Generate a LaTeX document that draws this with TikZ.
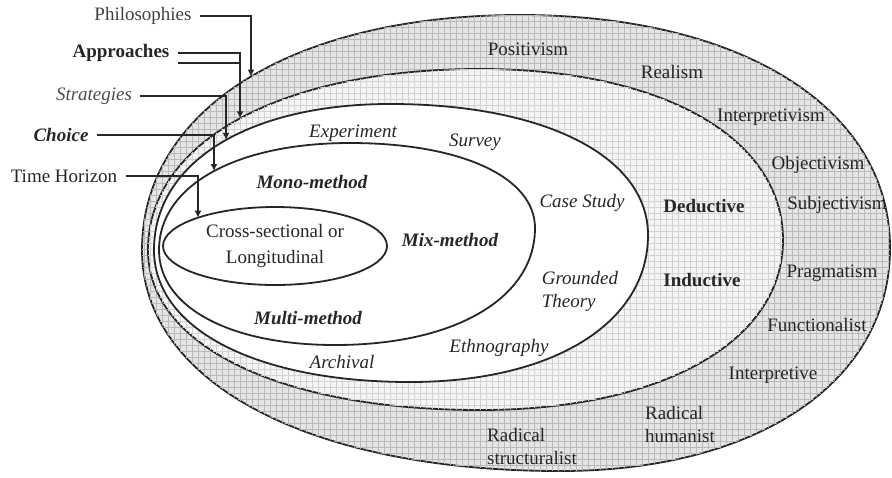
\documentclass[tikz,border=0pt]{standalone}
\usepackage{fontspec}
\setmainfont{Liberation Serif}
\usetikzlibrary{patterns,arrows.meta,shapes.geometric,intersections}

% one ring of the onion: left, top, right and bottom points
\newcommand{\ring}[8]{(#1,#2) .. controls (#1,{#2-0.6*(#2-#4)}) and ({#3-0.6*(#3-#1)},#4) .. (#3,#4) .. controls ({#3+0.6*(#5-#3)},#4) and (#5,{#6-0.6*(#6-#4)}) .. (#5,#6) .. controls (#5,{#6+0.6*(#8-#6)}) and ({#7+0.6*(#5-#7)},#8) .. (#7,#8) .. controls ({#7-0.6*(#7-#1)},#8) and (#1,{#2+0.6*(#8-#2)}) .. cycle}

\begin{document}
\begin{tikzpicture}[x=0.5pt,y=-0.5pt,
  every node/.style={font=\fontsize{9.5}{11.5}\selectfont, text=black!85, inner sep=2pt},
  band1/.style={fill=gray!20, postaction={pattern=grid, pattern color=gray!55}},
  band2/.style={fill=gray!8, postaction={pattern=grid, pattern color=gray!35}},
  layer/.style={draw=black!85, line width=0.9pt},
  pointer/.style={draw=black!85, line width=0.7pt, -{Latex[length=3.5pt,width=3.5pt]}},
  tag/.style={inner sep=4pt}]
\useasboundingbox (0,0) rectangle (892,477);

% rings
\path[layer, band1, name path=philo ring] \ring{142}{250}{520}{15}{890}{248}{560}{471};
\path[layer, band2, name path=appr ring] \ring{148}{250}{480}{69}{783}{240}{480}{410};
\path[layer, fill=white, name path=strat ring] \ring{154}{250}{390}{104}{648}{235}{410}{382};
\path[layer, fill=white, name path=choice ring] \ring{159}{250}{350}{143}{535}{228}{335}{345};
\node[ellipse, layer, fill=white, minimum width=112pt, minimum height=39pt, align=center, name path=time ring] (horizon) at (275,246) {Cross-sectional or\\[1.5pt]Longitudinal};

% labels on the left
\node[tag, text=black!75] (philo) at (143,16) {Philosophies};
\node[tag, font=\fontsize{9.5}{11.5}\selectfont\bfseries] (appr) at (121,53) {Approaches};
\node[tag, text=black!70, font=\fontsize{9.5}{11.5}\selectfont\itshape] (strat) at (94,96) {Strategies};
\node[tag, font=\fontsize{9.5}{11.5}\selectfont\bfseries\itshape] (choice) at (61,135) {Choice};
\node[tag] (time) at (64,176) {Time Horizon};

% where the pointers meet the rings
\foreach \name/\x in {philo/251, appr/240, strat/226, choice/214, time/198} {
  \path[name path=\name\space drop] (\x,0) -- (\x,240);
  \path[name intersections={of={\name\space ring} and {\name\space drop}, by={\name\space tip}}];
}

\draw[pointer] (philo.east) -| (philo tip);
\draw[pointer] (appr.east) -| (appr tip);
\draw[layer, line width=0.7pt] ([yshift=-5pt]appr.east) -- ([yshift=-5pt]appr.east -| appr tip);
\draw[pointer] (strat.east) -| (strat tip);
\draw[pointer] (choice.east) -| (choice tip);
\draw[pointer] (time.east) -| (time tip);

% philosophies
\node (posit) at (528,49) {Positivism};
\node (real) at (672,72) {Realism};
\node (interp) at (771,117) {Interpretivism};
\node (obj) at (818,165) {Objectivism};
\node (subj) at (837,205) {Subjectivism};
\node (prag) at (832,273) {Pragmatism};
\node (func) at (817,325) {Functionalist};
\node (interpve) at (773,375) {Interpretive};
\node[align=left] (humanist) at (680,424) {Radical\\humanist};
\node[align=left] (struct) at (532,446) {Radical\\structuralist};

% approaches
\node[font=\fontsize{9.5}{11.5}\selectfont\bfseries] (deduct) at (704,206) {Deductive};
\node[font=\fontsize{9.5}{11.5}\selectfont\bfseries] (induct) at (702,280) {Inductive};

% strategies
\begin{scope}[every node/.append style={font=\fontsize{9.5}{11.5}\selectfont\itshape}]
\node (exper) at (353,133) {Experiment};
\node (survey) at (475,142) {Survey};
\node (case) at (582,203) {Case Study};
\node[align=left] (ground) at (580,291) {Grounded\\Theory};
\node (ethno) at (499,348) {Ethnography};
\node (arch) at (342,362) {Archival};
\end{scope}

% choices
\begin{scope}[every node/.append style={font=\fontsize{9.5}{11.5}\selectfont\bfseries\itshape}]
\node (mono) at (312,182) {Mono-method};
\node (mix) at (450,240) {Mix-method};
\node (multi) at (308,318) {Multi-method};
\end{scope}
\end{tikzpicture}
\end{document}
